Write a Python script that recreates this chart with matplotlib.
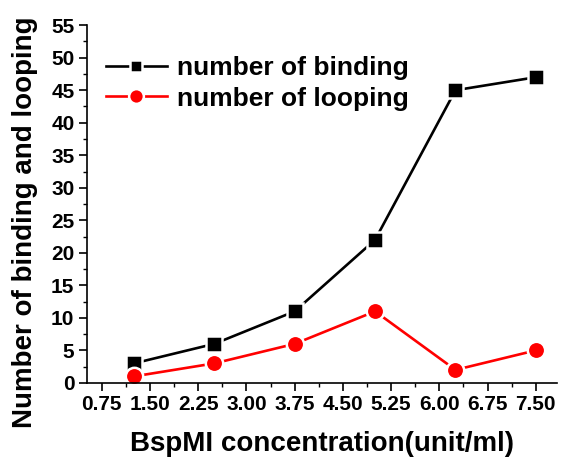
import matplotlib
matplotlib.use("Agg")
import matplotlib.pyplot as plt
from matplotlib.ticker import MultipleLocator, FixedLocator

concentration = [1.25, 2.5, 3.75, 5.0, 6.25, 7.5]
binding = [3, 6, 11, 22, 45, 47]
looping = [1, 3, 6, 11, 2, 5]
xtick_values = [0.75, 1.50, 2.25, 3.00, 3.75, 4.50, 5.25, 6.00, 6.75, 7.50]
xtick_labels = ["0.75", "1.50", "2.25", "3.00", "3.75", "4.50", "5.25", "6.00", "6.75", "7.50"]

plt.rcParams['font.family'] = ['Liberation Sans', 'DejaVu Sans']
plt.rcParams['font.weight'] = 'bold'

fig = plt.figure(figsize=(5.61, 4.58), dpi=100)
ax = fig.add_axes([0.155, 0.164, 0.838, 0.781])

ax.plot(concentration, binding, color='black', marker='s', markersize=11, lw=1.9,
        markeredgecolor='white', markeredgewidth=1.8, label='number of binding')
ax.plot(concentration, looping, color='red', marker='o', markersize=12.5, lw=1.9,
        markeredgecolor='white', markeredgewidth=1.8, label='number of looping')

ax.set_xlim(0.52, 7.83)
ax.set_ylim(0, 55)
ax.xaxis.set_major_locator(FixedLocator(xtick_values))
ax.set_xticklabels(xtick_labels)
ax.xaxis.set_minor_locator(MultipleLocator(0.375))
ax.yaxis.set_major_locator(MultipleLocator(5))
ax.yaxis.set_minor_locator(MultipleLocator(2.5))

for s in ['top', 'right']:
    ax.spines[s].set_visible(False)
for s in ['left', 'bottom']:
    ax.spines[s].set_linewidth(1.2)

ax.tick_params(which='major', direction='out', length=6, width=1.2, labelsize=15, pad=3)
ax.tick_params(which='minor', direction='out', length=3, width=1.0)
for lbl in ax.get_xticklabels() + ax.get_yticklabels():
    lbl.set_fontweight('bold')

ax.set_xlabel('BspMI concentration(unit/ml)', fontsize=20, fontweight='bold', labelpad=12)
ax.set_ylabel('Number of binding and looping', fontsize=20, fontweight='bold')
ax.yaxis.set_label_coords(-0.104, 0.45)

leg = ax.legend(loc='upper left', bbox_to_anchor=(-0.01, 0.98), frameon=False,
                prop={'size': 19, 'weight': 'bold'}, handlelength=2.3, handletextpad=0.4,
                labelspacing=0.25, markerscale=0.85)

fig.savefig('out.png', dpi=100)
